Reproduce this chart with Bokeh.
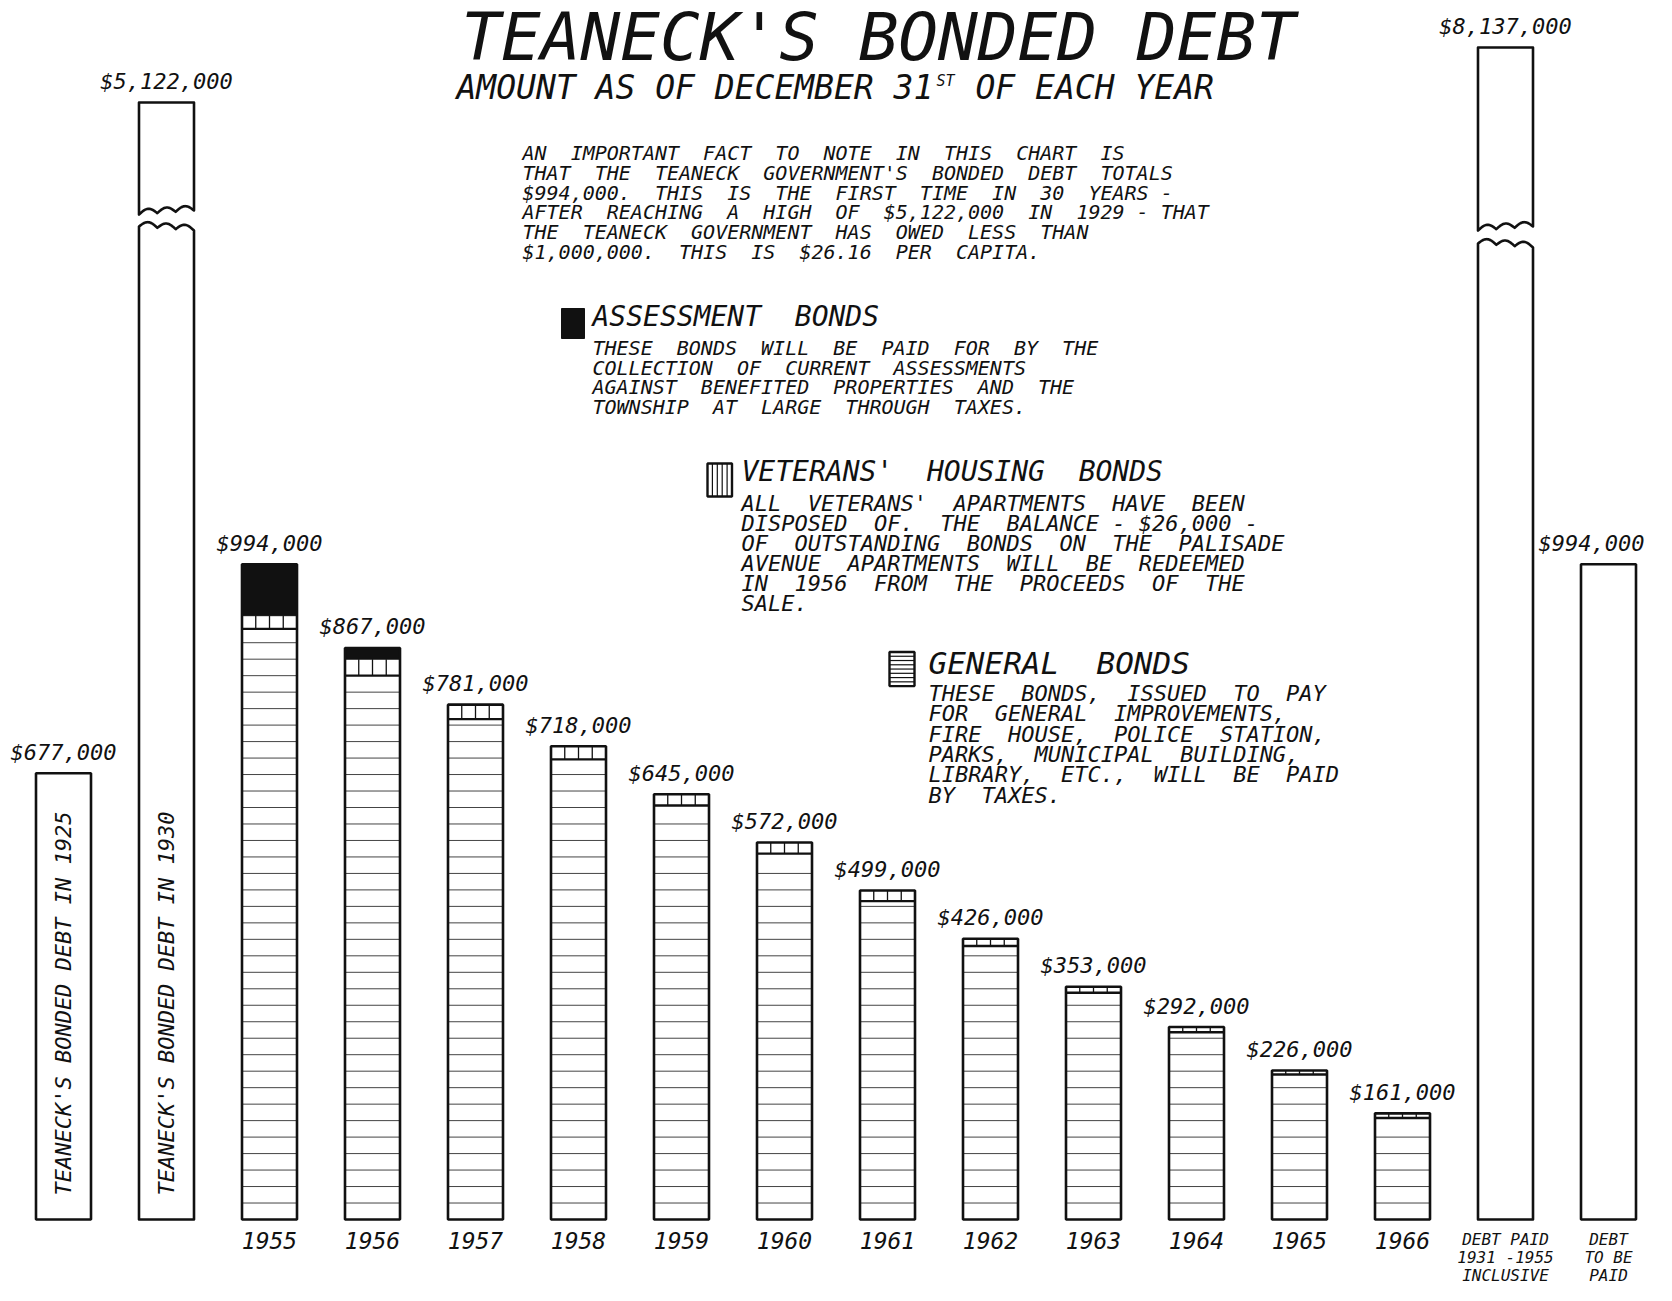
import numpy as np
from bokeh.plotting import figure
from bokeh.models import Range1d
from bokeh.core.properties import value
from bokeh.embed import file_html
from bokeh.resources import INLINE

# ---------------- data ----------------
bar_names = ["1925", "1930", "1955", "1956", "1957", "1958", "1959", "1960",
             "1961", "1962", "1963", "1964", "1965", "1966",
             "Debt Paid 1931-1955 Inclusive", "Debt To Be Paid"]
bar_totals = [677000, 5122000, 994000, 867000, 781000, 718000, 645000, 572000,
              499000, 426000, 353000, 292000, 226000, 161000, 8137000, 994000]
value_labels = ["$677,000", "$5,122,000", "$994,000", "$867,000", "$781,000",
                "$718,000", "$645,000", "$572,000", "$499,000", "$426,000",
                "$353,000", "$292,000", "$226,000", "$161,000", "$8,137,000",
                "$994,000"]

years = ["1955", "1956", "1957", "1958", "1959", "1960",
         "1961", "1962", "1963", "1964", "1965", "1966"]
assessment_bonds = [78000, 17000, 0, 0, 0, 0, 0, 0, 0, 0, 0, 0]
veterans_bonds = [20000, 25000, 22000, 20000, 17000, 17000,
                  16000, 11000, 9000, 8000, 6000, 7000]
general_bonds = [t - a - v for t, a, v in
                 zip(bar_totals[2:14], assessment_bonds, veterans_bonds)]

vertical_labels = ["TEANECK'S BONDED DEBT IN 1925",
                   "TEANECK'S BONDED DEBT IN 1930"]
right_tick_labels = [["DEBT PAID", "1931 -1955", "INCLUSIVE"],
                     ["DEBT", "TO BE", "PAID"]]

chart_title = "TEANECK'S BONDED DEBT"
subtitle_parts = ["AMOUNT AS OF DECEMBER 31", "ST", "OF EACH YEAR"]

intro_lines = [
    "AN  IMPORTANT  FACT  TO  NOTE  IN  THIS  CHART  IS",
    "THAT  THE  TEANECK  GOVERNMENT'S  BONDED  DEBT  TOTALS",
    "$994,000.   THIS  IS  THE  FIRST  TIME  IN  30  YEARS -",
    "AFTER  REACHING  A  HIGH  OF  $5,122,000  IN  1929 - THAT",
    "THE  TEANECK  GOVERNMENT  HAS  OWED  LESS  THAN",
    "$1,000,000.   THIS  IS  $26.16  PER  CAPITA.",
]
assessment_title = "ASSESSMENT  BONDS"
assessment_lines = [
    "THESE  BONDS  WILL  BE  PAID  FOR  BY  THE",
    "COLLECTION  OF  CURRENT  ASSESSMENTS",
    "AGAINST  BENEFITED  PROPERTIES  AND  THE",
    "TOWNSHIP  AT  LARGE  THROUGH  TAXES.",
]
veterans_title = "VETERANS'  HOUSING  BONDS"
veterans_lines = [
    "ALL  VETERANS'  APARTMENTS  HAVE  BEEN",
    "DISPOSED  OF.   THE  BALANCE - $26,000 -",
    "OF  OUTSTANDING  BONDS  ON  THE  PALISADE",
    "AVENUE  APARTMENTS  WILL  BE  REDEEMED",
    "IN  1956  FROM  THE  PROCEEDS  OF  THE",
    "SALE.",
]
general_title = "GENERAL  BONDS"
general_lines = [
    "THESE  BONDS,  ISSUED  TO  PAY",
    "FOR  GENERAL  IMPROVEMENTS,",
    "FIRE  HOUSE,  POLICE  STATION,",
    "PARKS,  MUNICIPAL  BUILDING,",
    "LIBRARY,  ETC.,  WILL  BE  PAID",
    "BY  TAXES.",
]

# ---------------- layout ----------------
W, H = 1656, 1285
X0, DX = 63.0, 103.0          # picture x of first bar centre, bar spacing (px)
BASE_Y, DPP = 1219.0, 1517.0  # picture y of $0, dollars per pixel
BAR_W = 0.534
RULE_STEP = 25000
INK = "#111111"
FONT = value("DejaVu Sans Mono")
CHAR_W = 0.602                # advance of the mono font, in em


def dx(px):
    return (np.asarray(px, float) - X0) / DX


def dy(py):
    return (BASE_Y - np.asarray(py, float)) * DPP


def keep_gaps(s):
    # keep the wide hand-lettered word gaps visible (runs of spaces)
    return s.replace("  ", "\u00a0 ")


p = figure(width=W, height=H,
           x_range=Range1d(float(dx(0)), float(dx(W))),
           y_range=Range1d(float(dy(H)), float(dy(0))),
           x_axis_type=None, y_axis_type=None, toolbar_location=None,
           output_backend="svg", min_border=0, outline_line_color=None,
           background_fill_color="white", border_fill_color="white")


def txt(xs, ys, texts, size, align="left", angle=0.0):
    p.text(x=[float(v) for v in np.atleast_1d(xs)],
           y=[float(v) for v in np.atleast_1d(ys)],
           text=[keep_gaps(s) for s in texts], text_font=FONT,
           text_font_style="italic", text_font_size=f"{size}px",
           text_color=INK, text_align=align, text_baseline="middle",
           angle=angle)


half = BAR_W / 2
idx = np.arange(len(bar_totals))

# ---- year bars with the three kinds of bonds ----
yr = idx[2:14].astype(float)
tot = np.array(bar_totals[2:14], float)
ass = np.array(assessment_bonds, float)
vet = np.array(veterans_bonds, float)
gen = np.array(general_bonds, float)

p.quad(left=yr - half, right=yr + half, bottom=0, top=tot,
       fill_color="white", line_color=None)
m = ass > 0
p.quad(left=(yr - half)[m], right=(yr + half)[m], bottom=(gen + vet)[m],
       top=tot[m], fill_color=INK, line_color=INK, line_width=1)

rx0, rx1, ry = [], [], []
for i, g in zip(yr, gen):
    k = 1
    while k * RULE_STEP < g - 4 * DPP:
        rx0.append(i - half)
        rx1.append(i + half)
        ry.append(k * RULE_STEP)
        k += 1
p.segment(x0=rx0, y0=ry, x1=rx1, y1=ry, line_color="#444444", line_width=1.0)

vx, vy0, vy1 = [], [], []
for i, g, v in zip(yr, gen, vet):
    for j in (1, 2, 3):
        vx.append(i - half + j * BAR_W / 4)
        vy0.append(g)
        vy1.append(g + v)
p.segment(x0=vx, y0=vy0, x1=vx, y1=vy1, line_color=INK, line_width=1.3)
p.segment(x0=yr - half, y0=gen, x1=yr + half, y1=gen, line_color=INK,
          line_width=2.4)
p.quad(left=yr - half, right=yr + half, bottom=0, top=tot, fill_color=None,
       line_color=INK, line_width=2.6)

# ---- plain bars ----
plain = [0, 15]
p.quad(left=[i - half for i in plain], right=[i + half for i in plain],
       bottom=0, top=[bar_totals[i] for i in plain], fill_color="white",
       line_color=INK, line_width=2.6)

# ---- broken (off-scale) bars ----
BREAKS = {1: (102, 212, 228), 14: (47, 228, 245)}  # top, cut above, cut below (px)
t = np.linspace(0, 1, 49)
hump = np.abs(np.sin(3 * np.pi * t)) * 5
drawn_top = {}
for i, (top_px, up_px, low_px) in BREAKS.items():
    xl, xr = i - half, i + half
    wx = xl + t * BAR_W
    up_s = up_px + 2 - 4 * t - hump
    low_s = low_px - 2 + 4 * t - hump
    xs_u = [xl, xr] + list(wx[::-1])
    ys_u = [float(dy(top_px))] * 2 + list(dy(up_s)[::-1])
    p.patch(xs_u, ys_u, fill_color="white", line_color=INK, line_width=2.6,
            line_join="round")
    xs_l = [xl] + list(wx) + [xr]
    ys_l = [0.0] + list(dy(low_s)) + [0.0]
    p.patch(xs_l, ys_l, fill_color="white", line_color=INK, line_width=2.6,
            line_join="round")
    drawn_top[i] = float(dy(top_px))

# ---- value labels above bars (kept inside the right edge) ----
LAB_SIZE = 22
lab_y = [drawn_top.get(i, bar_totals[i]) + 21 * DPP for i in idx]
lab_x = []
for i, s in zip(idx, value_labels):
    half_w_px = len(s) * CHAR_W * LAB_SIZE / 2
    cx = min(X0 + DX * i, W - 12 - half_w_px)
    lab_x.append(float(dx(cx)))
txt(lab_x, lab_y, value_labels, LAB_SIZE, align="center")

# ---- labels under bars ----
txt(yr, [dy(1240)] * len(years), years, 23, align="center")
for k, i in enumerate([14, 15]):
    txt([float(i)] * 3, dy([1239, 1257, 1275]), right_tick_labels[k], 16,
        align="center")

# ---- vertical text inside first two bars ----
txt([0.0, 1.0], [dy(1003)] * 2, vertical_labels, 22, align="center",
    angle=np.pi / 2)

# ---- title ----
txt([dx(878)], [dy(37)], [chart_title], 66, align="center")
txt([dx(456)], [dy(87)], [subtitle_parts[0]], 33)
txt([dx(936)], [dy(80)], [subtitle_parts[1]], 15)
txt([dx(975)], [dy(87)], [subtitle_parts[2]], 33)

# ---- note paragraph ----
txt([dx(522)] * len(intro_lines), dy(152.5 + 19.8 * np.arange(len(intro_lines))),
    intro_lines, 20)

# ---- legend: assessment ----
p.quad(left=dx(561), right=dx(584), top=dy(308), bottom=dy(338),
       fill_color=INK, line_color=INK, line_width=1)
txt([dx(592)], [dy(316)], [assessment_title], 28)
txt([dx(592)] * len(assessment_lines),
    dy(347.6 + 19.6 * np.arange(len(assessment_lines))), assessment_lines, 20)

# ---- legend: veterans ----
p.quad(left=dx(707), right=dx(731.5), top=dy(463), bottom=dy(496),
       fill_color="white", line_color=INK, line_width=2.4)
lx = dx(707 + 24.5 * np.arange(1, 5) / 5)
p.segment(x0=lx, y0=[float(dy(463))] * 4, x1=lx, y1=[float(dy(496))] * 4,
          line_color=INK, line_width=1.2)
txt([dx(741)], [dy(470.5)], [veterans_title], 28)
txt([dx(741)] * len(veterans_lines),
    dy(503.3 + 19.85 * np.arange(len(veterans_lines))), veterans_lines, 22)

# ---- legend: general ----
p.quad(left=dx(889), right=dx(914), top=dy(651.5), bottom=dy(685.6),
       fill_color="white", line_color=INK, line_width=2.4)
ly = dy(651.5 + 34.1 * np.arange(1, 8) / 8)
p.segment(x0=[float(dx(889))] * 7, y0=ly, x1=[float(dx(914))] * 7, y1=ly,
          line_color=INK, line_width=1.2)
txt([dx(928)], [dy(662)], [general_title], 31)
txt([dx(928)] * len(general_lines),
    dy(693 + 20.3 * np.arange(len(general_lines))), general_lines, 22)

open("out.html", "w").write(file_html(p, INLINE))
